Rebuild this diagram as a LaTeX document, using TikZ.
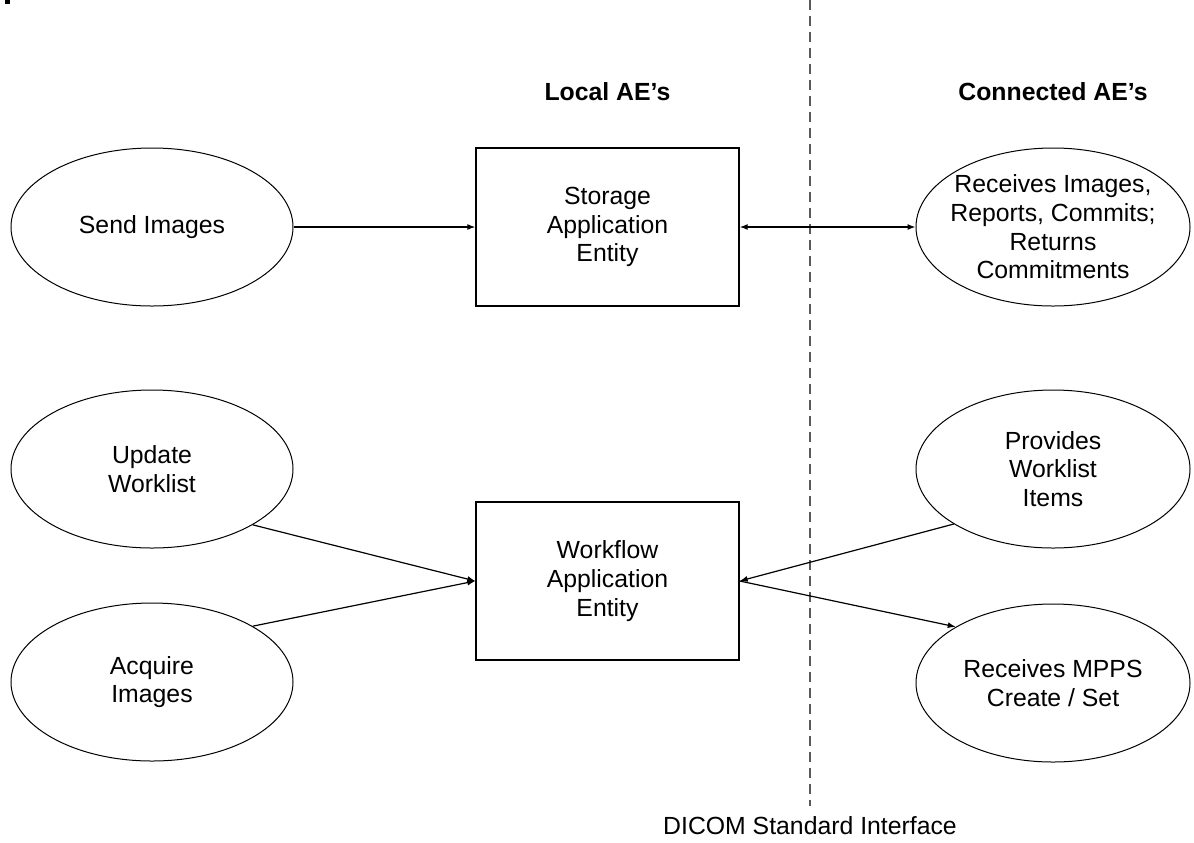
\documentclass[tikz,border=0pt]{standalone}
\usepackage{fontspec}
\setmainfont{Liberation Sans}
\usetikzlibrary{shapes.geometric,arrows.meta}

\begin{document}
\begin{tikzpicture}[
    x=0.5pt, y=-0.5pt,
    font=\fontsize{12.4}{14.3}\selectfont,
    usecase/.style={ellipse, draw, line width=0.5pt, minimum width=141pt, minimum height=79pt, inner sep=-6pt, align=center},
    peer/.style={usecase, minimum width=137pt},
    aebox/.style={rectangle, draw, line width=0.7pt, minimum width=131.5pt, minimum height=79pt, inner sep=0pt, align=center},
    heading/.style={font=\fontsize{12.4}{14.3}\selectfont\bfseries},
    tip/.tip={Latex[length=4pt,width=3pt]},
    link/.style={line width=0.6pt, -tip},
]
  \useasboundingbox (0,0) rectangle (1194,842);
  \fill (5,0) rectangle (10,4);
  \draw [gray!70!black, line width=0.6pt, dash pattern=on 5pt off 3pt] (810,0) -- (810,806);

  \node [heading]  (local)     at (607.5,92)  {Local AE’s};
  \node [heading]  (connected) at (1053,92)   {Connected AE’s};

  \node [usecase]  (send)      at (152,227)   {Send Images};
  \node [usecase]  (update)    at (152,469)   {Update\\Worklist};
  \node [usecase]  (acquire)   at (152,682)   {Acquire\\Images};

  \node [aebox]    (storage)   at (607.5,227) {Storage\\Application\\Entity};
  \node [aebox]    (workflow)  at (607.5,581) {Workflow\\Application\\Entity};

  \node [peer]     (receives)  at (1053,227)  {Receives Images,\\Reports, Commits;\\Returns\\Commitments};
  \node [peer]     (provides)  at (1053,469)  {Provides\\Worklist\\Items};
  \node [peer]     (mpps)      at (1053,683)  {Receives MPPS\\Create / Set};

  \node []         (dicom)     at (810,826)   {DICOM Standard Interface};

  \draw [link]                              (send)          -- (storage);
  \draw [link, tip-tip]                     (storage)       -- (receives);
  \draw [link]                              (update.-29)    -- (workflow.west);
  \draw [link]                              (acquire.29)    -- (workflow.west);
  \draw [link]                              (provides.209)  -- (workflow.east);
  \draw [link]                              (workflow.east) -- (mpps.150);
\end{tikzpicture}
\end{document}
